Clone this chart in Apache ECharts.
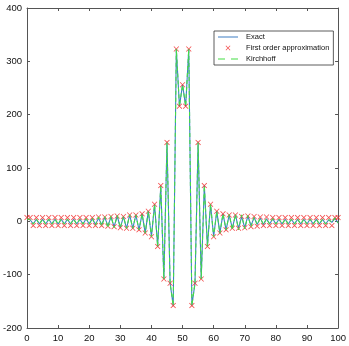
<!DOCTYPE html>
<html>
<head>
<meta charset="utf-8">
<script src="https://cdn.jsdelivr.net/npm/echarts@6/dist/echarts.min.js"></script>
<style>html,body{margin:0;padding:0;background:#fff;}#c{width:349px;height:346px;}</style>
</head>
<body>
<div id="c"></div>
<script>
var xValues = [];
for (var i = 0; i <= 100; i++) xValues.push(i);

// First order approximation (red crosses)
var approxValues = [
  7, 7, -8, 7, -8, 7, -8, 7, -8, 7,
  -8, 7, -8, 7, -8, 7, -8, 7, -8, 7,
  -8, 7, -8, 8, -8, 8, -9, 9, -10, 10,
  -12, 9, -13, 12, -13, 12, -16, 14, -22, 19,
  -29, 32, -47, 67, -108, 148, -116, -158, 323, 216,
  256,
  216, 323, -158, -116, 148, -108, 67, -47, 32, -29,
  19, -22, 14, -16, 12, -13, 12, -13, 9, -12,
  10, -10, 9, -9, 8, -8, 8, -8, 7, -8,
  7, -8, 7, -8, 7, -8, 7, -8, 7, -8,
  7, -8, 7, -8, 7, -8, 7, -8, 7, 7
];
// Exact (blue line)
var exactValues = [
  5, 3, -5, 4, -5, 4, -5, 4, -5, 4,
  -5, 4, -5, 4, -5, 4, -5, 4, -5, 5,
  -5, 5, -6, 6, -6, 7, -8, 8, -10, 10,
  -12, 9, -13, 12, -13, 12, -16, 14, -22, 19,
  -29, 32, -47, 67, -108, 148, -116, -158, 323, 216,
  256,
  216, 323, -158, -116, 148, -108, 67, -47, 32, -29,
  19, -22, 14, -16, 12, -13, 12, -13, 9, -12,
  10, -8, 7, -6, 6, -6, 5, -5, 5, -5,
  4, -5, 4, -5, 4, -5, 4, -5, 4, -5,
  4, -5, 4, -5, 4, -5, 3, -2, 6, -3
];
// Kirchhoff (green dashed)
var kirchValues = [
  5, 3, -5, 4, -5, 4, -5, 4, -5, 4,
  -5, 4, -5, 4, -5, 4, -5, 4, -5, 5,
  -5, 6, -7, 8, -9, 9, -12, 10, -12, 11,
  -12, 9, -13, 12, -13, 12, -16, 14, -22, 19,
  -29, 32, -47, 67, -108, 148, -116, -158, 323, 216,
  256,
  216, 323, -158, -116, 148, -108, 67, -47, 32, -29,
  19, -22, 14, -16, 13, -16, 13, -16, 12, -14,
  11, -10, 8, -6, 6, -6, 5, -5, 5, -5,
  4, -5, 4, -5, 4, -5, 4, -5, 4, -5,
  4, -5, 4, -5, 4, -5, 3, -2, 6, -3
];
var xTicks = [0, 10, 20, 30, 40, 50, 60, 70, 80, 90, 100];
var yTicks = [-200, -100, 0, 100, 200, 300, 400];
var legendNames = ['Exact', 'First order approximation', 'Kirchhoff'];

function pairs(vals) {
  return xValues.map(function (x, i) { return [x, vals[i]]; });
}

var crossPath = 'path://M0,1L1,0L5,4L9,0L10,1L6,5L10,9L9,10L5,6L1,10L0,9L4,5Z';
// legend icons: tiny corner specks fix the 20x8 box so the glyph keeps its size
var box = 'M0,0L0.01,0L0,0.01Z M20,8L19.99,8L20,7.99Z ';
var iconLine = 'path://' + box + 'M0,3.5L20,3.5L20,4.6L0,4.6Z';
var iconDash = 'path://' + box + 'M0,3.5L7,3.5L7,4.6L0,4.6Z M13,3.5L20,3.5L20,4.6L13,4.6Z';
var iconCross = 'path://' + box + 'M7.6,2.1L8.1,1.6L10,3.5L11.9,1.6L12.4,2.1L10.5,4L12.4,5.9L11.9,6.4L10,4.5L8.1,6.4L7.6,5.9L9.5,4Z';

var axisCol = '#555';
var font = 'Liberation Sans, Arial, sans-serif';

var chart = echarts.init(document.getElementById('c'), null, {renderer: 'canvas'});
chart.setOption({
  animation: false,
  backgroundColor: '#fff',
  grid: {left: 25.5, right: 6, top: 8, bottom: 18},
  legend: {
    orient: 'vertical',
    left: 214, top: 31,
    backgroundColor: '#fff',
    borderColor: '#333', borderWidth: 0.8, borderRadius: 0,
    padding: [2, 4, 2, 4],
    itemWidth: 20, itemHeight: 8, itemGap: 3,
    textStyle: {fontSize: 7.5, fontFamily: font, color: '#111', padding: [0, 0, 0, 3]},
    data: [
      {name: legendNames[0], icon: iconLine, itemStyle: {color: '#3f7fc4', borderWidth: 0}},
      {name: legendNames[1], icon: iconCross, itemStyle: {color: '#f02020', borderWidth: 0}},
      {name: legendNames[2], icon: iconDash, itemStyle: {color: '#44dd44', borderWidth: 0}}
    ]
  },
  xAxis: [{
    type: 'value', min: 0, max: 100, interval: 10,
    axisLine: {show: true, onZero: false, lineStyle: {color: axisCol, width: 1}},
    axisTick: {show: true, inside: true, length: 3, lineStyle: {color: axisCol}},
    axisLabel: {color: '#111', fontSize: 9.5, fontFamily: font, margin: 5,
      formatter: function (v) { return xTicks.indexOf(v) >= 0 ? String(v) : ''; }},
    splitLine: {show: false}
  }, {
    type: 'value', min: 0, max: 100, interval: 10, position: 'top',
    axisLine: {show: true, onZero: false, lineStyle: {color: axisCol, width: 1}},
    axisTick: {show: true, inside: true, length: 3, lineStyle: {color: axisCol}},
    axisLabel: {show: false}, splitLine: {show: false}
  }],
  yAxis: [{
    type: 'value', min: -200, max: 400, interval: 100,
    axisLine: {show: true, onZero: false, lineStyle: {color: axisCol, width: 1}},
    axisTick: {show: true, inside: true, length: 3, lineStyle: {color: axisCol}},
    axisLabel: {color: '#111', fontSize: 9.5, fontFamily: font, margin: 5,
      formatter: function (v) { return yTicks.indexOf(v) >= 0 ? String(v) : ''; }},
    splitLine: {show: false}
  }, {
    type: 'value', min: -200, max: 400, interval: 100, position: 'right',
    axisLine: {show: true, onZero: false, lineStyle: {color: axisCol, width: 1}},
    axisTick: {show: true, inside: true, length: 3, lineStyle: {color: axisCol}},
    axisLabel: {show: false}, splitLine: {show: false}
  }],
  series: [{
    name: legendNames[0], type: 'line', data: pairs(exactValues),
    symbol: 'none', color: '#3f7fc4',
    lineStyle: {color: '#3f7fc4', width: 1.1}
  }, {
    name: legendNames[1], type: 'scatter', data: pairs(approxValues),
    symbol: crossPath, symbolSize: 5.5, color: '#f02020',
    itemStyle: {color: '#f02020'}, z: 3
  }, {
    name: legendNames[2], type: 'line', data: pairs(kirchValues),
    symbol: 'none', color: '#44dd44',
    lineStyle: {color: '#44dd44', width: 1.1, type: [4, 3]}, z: 4
  }]
});
</script>
</body>
</html>
